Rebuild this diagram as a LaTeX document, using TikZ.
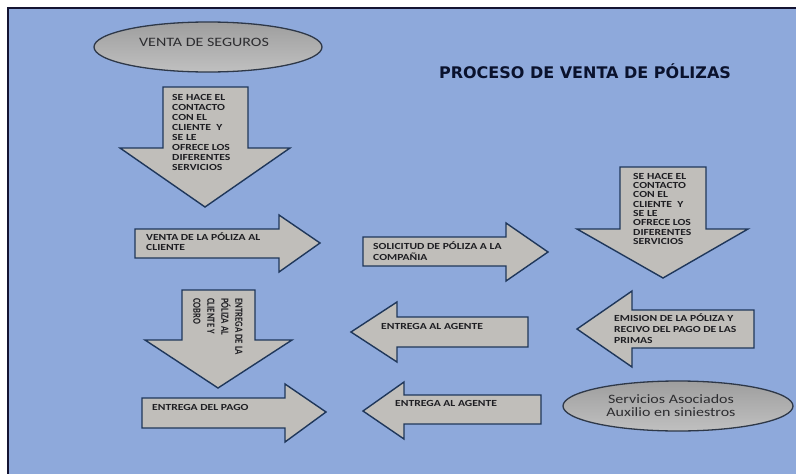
\documentclass[tikz,border=0pt]{standalone}
\usepackage{fontspec}
\setmainfont{Carlito}
\newfontfamily\arrowfont[FakeStretch=1.25]{Carlito}
\newfontfamily\sidefont[FakeStretch=0.8]{Carlito}
\newfontfamily\titlefont{DejaVu Sans}
\definecolor{panel}{RGB}{142,169,219}
\definecolor{arrowfill}{RGB}{192,190,186}
\definecolor{arrowline}{RGB}{31,55,90}
\definecolor{ink}{RGB}{30,30,34}
\definecolor{frameline}{RGB}{20,20,50}
\newcommand{\firstline}[1]{\rule{0pt}{#1}}
\tikzset{
  blockarrow/.style={fill=arrowfill, draw=arrowline, line width=1.4pt, line join=miter},
  oval/.style={draw={rgb,255:red,46;green,56;blue,72}, line width=1.3pt,
    top color={rgb,255:red,158;green,158;blue,158},
    bottom color={rgb,255:red,192;green,192;blue,192}},
  arrowtext/.style={inner sep=0pt, anchor=north west, align=left, text=ink,
    font=\arrowfont\bfseries\fontsize{9.3}{10.1}\selectfont},
  ovaltext/.style={inner sep=0pt, text={rgb,255:red,45;green,45;blue,48},
    font=\arrowfont\fontsize{12.8}{13}\selectfont},
}
\begin{document}
\begin{tikzpicture}[x=1pt, y=-1pt]
\useasboundingbox (0,0) rectangle (796,474);
% panel and its frame
\fill[panel] (8,8) rectangle (796,474);
\draw[frameline, line width=1.5pt] (8,474) -- (8,8) -- (796,8);

% title
\node[inner sep=0pt, text={rgb,255:red,10;green,18;blue,45},
  font=\titlefont\bfseries\fontsize{16}{18}\selectfont] (title) at (585,71)
  {PROCESO DE VENTA DE PÓLIZAS};

% start and end ovals
\draw[oval] (208,47) ellipse [x radius=114, y radius=25];
\node[ovaltext] (start) at (204,42) {VENTA DE SEGUROS};
\draw[oval] (678,406) ellipse [x radius=115, y radius=25];
\node[ovaltext, anchor=north, align=center] (services) at (671,391)
  {\firstline{12pt}Servicios Asociados\\Auxilio en siniestros};

% block arrows
\draw[blockarrow] (163,87) -- (248,87) -- (248,148) -- (290,148) -- (205,207)
  -- (120,148) -- (163,148) -- cycle;
\draw[blockarrow] (135,229) -- (279,229) -- (279,215) -- (320,243) -- (279,272)
  -- (279,258) -- (135,258) -- cycle;
\draw[blockarrow] (363,237) -- (506,237) -- (506,223) -- (548,252) -- (506,281)
  -- (506,266) -- (363,266) -- cycle;
\draw[blockarrow] (620,167) -- (706,167) -- (706,229) -- (748,229) -- (663,278)
  -- (577,229) -- (620,229) -- cycle;
\draw[blockarrow] (754,310) -- (632,310) -- (632,291) -- (577,329) -- (632,367)
  -- (632,348) -- (754,348) -- cycle;
\draw[blockarrow] (528,317) -- (397,317) -- (397,302) -- (351,332) -- (397,362)
  -- (397,347) -- (528,347) -- cycle;
\draw[blockarrow] (182,290) -- (255,290) -- (255,340) -- (292,340) -- (218,388)
  -- (145,340) -- (182,340) -- cycle;
\draw[blockarrow] (142,398) -- (285,398) -- (285,384) -- (326,412) -- (285,442)
  -- (285,428) -- (142,428) -- cycle;
\draw[blockarrow] (541,395) -- (404,395) -- (404,382) -- (363,411) -- (404,439)
  -- (404,424) -- (541,424) -- cycle;

% arrow labels
\node[arrowtext] (contact) at (172,92)
  {\firstline{8pt}SE HACE EL\\CONTACTO\\CON EL\\CLIENTE\ \ Y\\SE LE\\OFRECE LOS\\DIFERENTES\\SERVICIOS};
\node[arrowtext] (sale) at (146,232)
  {\firstline{8pt}VENTA DE LA PÓLIZA AL\\CLIENTE};
\node[arrowtext, font=\arrowfont\bfseries\fontsize{9.3}{11}\selectfont] (request) at (373,241)
  {\firstline{8pt}SOLICITUD DE PÓLIZA A LA\\COMPAÑIA};
\node[arrowtext, font=\arrowfont\bfseries\fontsize{9.3}{9.3}\selectfont] (contact2) at (633,171)
  {\firstline{8pt}SE HACE EL\\CONTACTO\\CON EL\\CLIENTE\ \ Y\\SE LE\\OFRECE LOS\\DIFERENTES\\SERVICIOS};
\node[arrowtext, font=\arrowfont\bfseries\fontsize{9.3}{11}\selectfont] (issue) at (614,313)
  {\firstline{8pt}EMISION DE LA PÓLIZA Y\\RECIVO DEL PAGO DE LAS\\PRIMAS};
\node[arrowtext] (agent1) at (381,321) {\firstline{8pt}ENTREGA AL AGENTE};
\node[arrowtext] (agent2) at (395,398) {\firstline{8pt}ENTREGA AL AGENTE};
\node[arrowtext] (payment) at (152,402) {\firstline{8pt}ENTREGA DEL PAGO};
\node[arrowtext, rotate=-90, font=\sidefont\bfseries\fontsize{10.9}{14}\selectfont]
  (delivery) at (245.5,298)
  {\firstline{10pt}ENTREGA DE LA\\PÓLIZA AL\\CLIENTE Y\\COBRO};
\end{tikzpicture}
\end{document}
